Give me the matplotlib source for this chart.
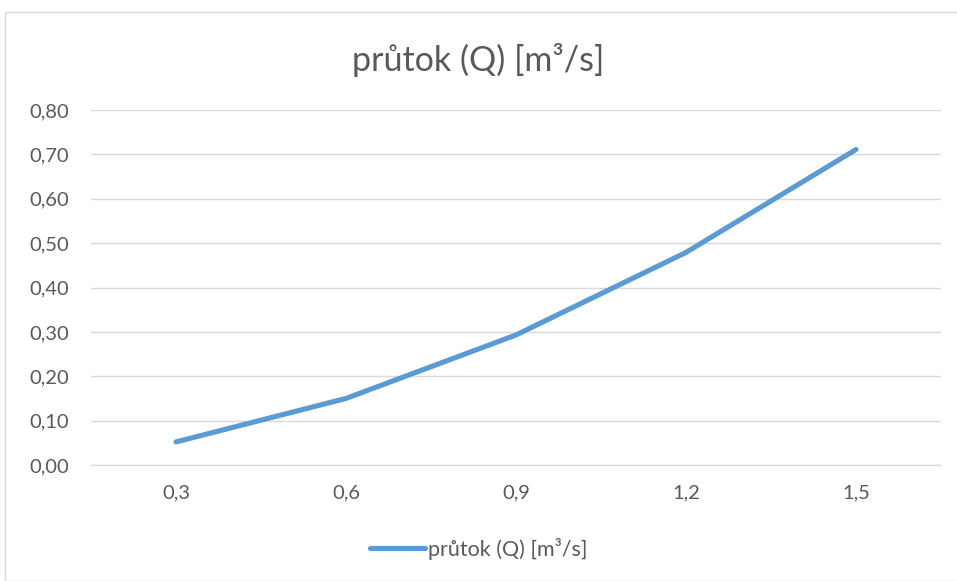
import matplotlib
matplotlib.use("Agg")
import matplotlib.pyplot as plt
from matplotlib.patches import Rectangle
from matplotlib.ticker import FuncFormatter

categories = ["0,3", "0,6", "0,9", "1,2", "1,5"]
flow_values = [0.052, 0.150, 0.293, 0.479, 0.711]
series_name = "průtok (Q) [m³/s]"
title_text = "průtok (Q) [m³/s]"

plt.rcParams['font.family'] = ['Lato', 'DejaVu Sans']
text_color = "#595959"
grid_color = "#D9D9D9"
line_color = "#5B9BD5"

W, H = 957, 581
fig = plt.figure(figsize=(W / 100, H / 100), dpi=100)
fig.patches.append(Rectangle((5 / W, 0), 1, 1 - 12 / H, transform=fig.transFigure,
                             fill=False, edgecolor="#D9D9D9", linewidth=1.0))

ax = fig.add_axes([91 / W, 1 - 465 / H, 850 / W, 355 / H])
x = list(range(len(categories)))
ax.plot(x, flow_values, color=line_color, linewidth=3.7, solid_capstyle="round",
        solid_joinstyle="round", label=series_name)

ax.set_xlim(-0.5, len(categories) - 0.5)
ax.set_ylim(0, 0.8)
ax.set_yticks([i / 10 for i in range(9)])
ax.yaxis.set_major_formatter(FuncFormatter(lambda v, p: f"{v:.2f}".replace(".", ",")))
ax.set_xticks(x)
ax.set_xticklabels(categories)

ax.grid(axis="y", color=grid_color, linewidth=1.0)
ax.set_axisbelow(True)
for s in ["top", "right", "left"]:
    ax.spines[s].set_visible(False)
ax.spines["bottom"].set_color(grid_color)
ax.spines["bottom"].set_linewidth(1.0)
ax.tick_params(axis="both", length=0, colors=text_color, labelsize=14.5)
ax.tick_params(axis="y", pad=16)
ax.tick_params(axis="x", pad=14)

fig.text(0.5, 1 - 60 / H, title_text, ha="center", va="center", fontsize=24.5, color=text_color)

leg = fig.legend(loc="center", bbox_to_anchor=(0.5, 1 - 549 / H), frameon=False,
                 fontsize=15.5, handlelength=2.55, handletextpad=0.15, labelcolor=text_color)

fig.savefig("out.png", dpi=100, facecolor="white")
